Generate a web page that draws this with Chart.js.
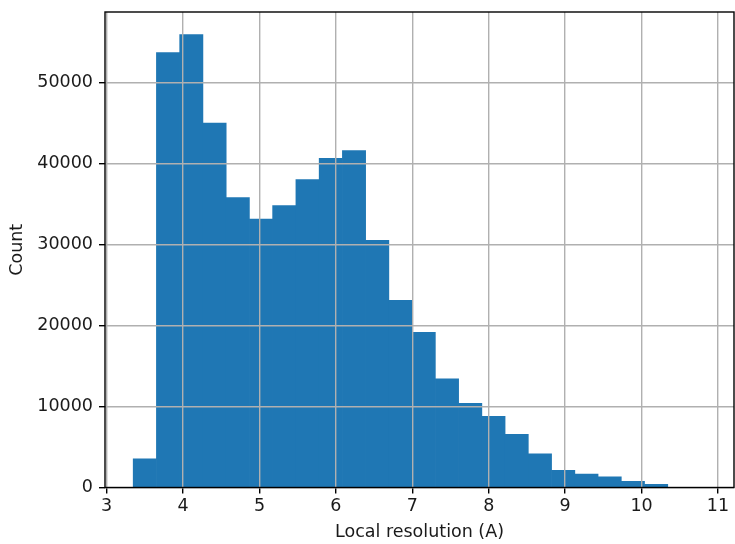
<!DOCTYPE html>
<html>
<head>
<meta charset="utf-8">
<script src="https://cdn.jsdelivr.net/npm/chart.js@4/dist/chart.umd.min.js"></script>
<style>
  html, body { margin: 0; padding: 0; background: #fff; }
  canvas { display: block; }
</style>
</head>
<body>
<canvas id="chart" width="735" height="544"></canvas>
<script>
// histogram bin edges (A)
const binEdges = [3.347, 3.651, 3.955, 4.260, 4.564, 4.868, 5.172, 5.476, 5.781, 6.085,
                  6.389, 6.693, 6.997, 7.302, 7.606, 7.910, 8.214, 8.518, 8.823, 9.127,
                  9.431, 9.735, 10.039, 10.343];
// counts per bin
const counts = [3550, 53700, 55900, 45000, 35800, 33150, 34800, 38000, 40650, 41600,
                30500, 23100, 19150, 13400, 10400, 8800, 6550, 4150, 2130, 1650,
                1330, 770, 400];
const xTicks = [3, 4, 5, 6, 7, 8, 9, 10, 11];
const yTicks = [0, 10000, 20000, 30000, 40000, 50000];

const font = { family: 'DejaVu Sans', size: 17.5 };
const textColor = '#1a1a1a';

const points = counts.map((c, i) => ({ x: (binEdges[i] + binEdges[i + 1]) / 2, y: c }));

// all four spines, drawn last so they sit on top of bars and grid
const frame = {
    id: 'frame',
    afterDraw(chart) {
        const a = chart.chartArea;
        const ctx = chart.ctx;
        ctx.save();
        ctx.strokeStyle = '#000';
        ctx.lineWidth = 1.4;
        ctx.strokeRect(a.left, a.top, a.right - a.left, a.bottom - a.top);
        ctx.restore();
    }
};

new Chart(document.getElementById('chart'), {
    type: 'bar',
    data: {
        datasets: [{
            data: points,
            backgroundColor: '#1f77b4',
            borderWidth: 0,
            barPercentage: 1,
            categoryPercentage: 1,
            grouped: false
        }]
    },
    plugins: [frame],
    options: {
        responsive: false,
        animation: false,
        layout: { padding: { left: 0, right: 1, top: 12, bottom: 0 } },
        plugins: { legend: { display: false }, tooltip: { enabled: false } },
        scales: {
            x: {
                type: 'linear',
                min: 2.978,
                max: 11.21,
                offset: false,
                afterBuildTicks: s => { s.ticks = xTicks.map(v => ({ value: v })); },
                afterFit: s => { s.height = 56.5; s.paddingLeft = 0; s.paddingRight = 0; },
                grid: { z: 1, offset: false, color: '#b0b0b0', lineWidth: 1.4, tickLength: 6, tickColor: '#000', tickWidth: 1.4 },
                border: { display: false },
                ticks: { font: font, color: textColor, padding: 2, maxRotation: 0 },
                title: { display: true, text: 'Local resolution (A)', font: font, color: textColor, padding: { top: 0, bottom: 1 } }
            },
            y: {
                min: 0,
                max: 58700,
                afterBuildTicks: s => { s.ticks = yTicks.map(v => ({ value: v })); },
                afterFit: s => { s.width = 105; s.paddingTop = 0; s.paddingBottom = 0; },
                grid: { z: 1, color: '#b0b0b0', lineWidth: 1.4, tickLength: 6, tickColor: '#000', tickWidth: 1.4 },
                border: { display: false },
                ticks: { font: font, color: textColor, padding: 6, callback: v => String(v) },
                title: { display: true, text: 'Count', font: font, color: textColor, padding: { top: 7, bottom: 0 } }
            }
        }
    }
});
</script>
</body>
</html>
